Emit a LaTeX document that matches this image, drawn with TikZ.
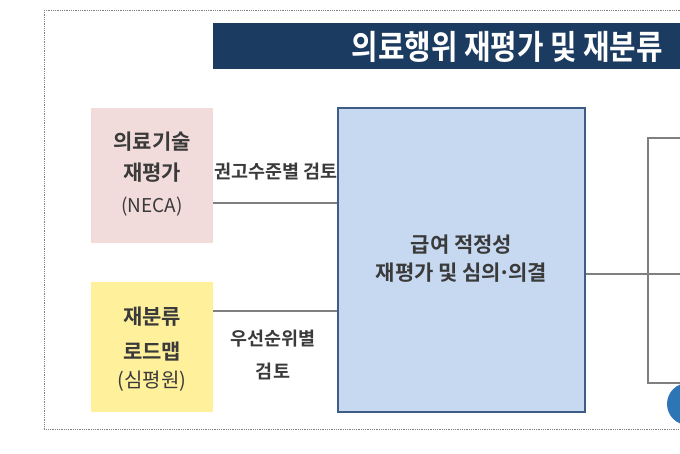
\documentclass[tikz,border=0pt]{standalone}
\usepackage{fontspec}
\newfontfamily\kr{Noto Sans CJK KR}
\newfontfamily\krb{Noto Sans CJK KR Bold}
\definecolor{navy}{HTML}{1C3B60}
\definecolor{pinkbox}{HTML}{F2DCDB}
\definecolor{yellowbox}{HTML}{FFF09C}
\definecolor{bluebox}{HTML}{C6D9F0}
\definecolor{blueedge}{HTML}{3E5C85}
\definecolor{linegray}{HTML}{7F7F7F}
\definecolor{txt}{HTML}{3A3A3A}
\definecolor{dotblue}{HTML}{2E75B6}
\begin{document}
\begin{tikzpicture}[x=1pt,y=-1pt,
  srcbox/.style={draw=none,minimum width=122pt,inner sep=0pt},
  conn/.style={draw=linegray,line width=2.2pt},
  bt/.style={text=txt,font=\krb\fontsize{21}{24}\selectfont,inner sep=0pt},
  rt/.style={text=txt,font=\kr\fontsize{20}{24}\selectfont,inner sep=0pt},
  lbl/.style={text=txt,font=\krb\fontsize{18.5}{24}\selectfont,inner sep=0pt}]
\useasboundingbox (0,0) rectangle (680,454);
\draw[densely dotted,line width=0.8pt,draw=gray] (44,10) -- (681,10) (44,10) -- (44,429) -- (681,429);
% title bar
\fill[navy] (213,23) rectangle (681,69);
\node[anchor=east,inner sep=0pt,text=white] (title) at (663,47) {\scalebox{0.9}[1.05]{\krb\fontsize{32}{34}\selectfont 의료행위 재평가 및 재분류}};
% boxes
\node[srcbox,fill=pinkbox,minimum height=135pt] (neca) at (152,175.5) {};
\node[srcbox,fill=yellowbox,minimum height=130pt] (road) at (152,347) {};
\node[draw=blueedge,line width=2pt,fill=bluebox,minimum width=247pt,minimum height=304pt,inner sep=0pt] (main) at (461.5,260) {};
% texts
\node[bt] (t1) at (152,142) {의료기술};
\node[bt] (t2) at (152,173) {재평가};
\node[rt,font=\kr\fontsize{19}{24}\selectfont] (t3) at (152,207) {(NECA)};
\node[bt] (t4) at (152,317) {재분류};
\node[bt] (t5) at (152,352) {로드맵};
\node[rt] (t6) at (152,381) {(심평원)};
\node[bt] (m1) at (461.5,245) {급여 적정성};
\node[bt] (m2) at (461.5,273) {재평가 및 심의\kern-0.12em·\kern-0.12em의결};
\node[lbl] (l1) at (276,172) {권고수준별 검토};
\node[lbl] (l2) at (273,339) {우선순위별};
\node[lbl] (l3) at (273,371) {검토};
% connectors
\coordinate (n1) at (neca.east |- 0,203);
\coordinate (n2) at (main.west |- 0,203);
\coordinate (r1) at (road.east |- 0,311);
\coordinate (r2) at (main.west |- 0,311);
\draw[conn] (n1) -- (n2);
\draw[conn] (r1) -- (r2);
\coordinate (b1) at (main.east |- 0,274);
\coordinate (b2) at (681,274);
\draw[conn] (b1) -- (b2);
\coordinate (bt) at (648,138);
\coordinate (bb) at (648,383);
\draw[conn] (681,138) -- (bt) -- (bb) -- (681,383);
% partial circle
\fill[dotblue] (688,404) circle (21);
\end{tikzpicture}
\end{document}
